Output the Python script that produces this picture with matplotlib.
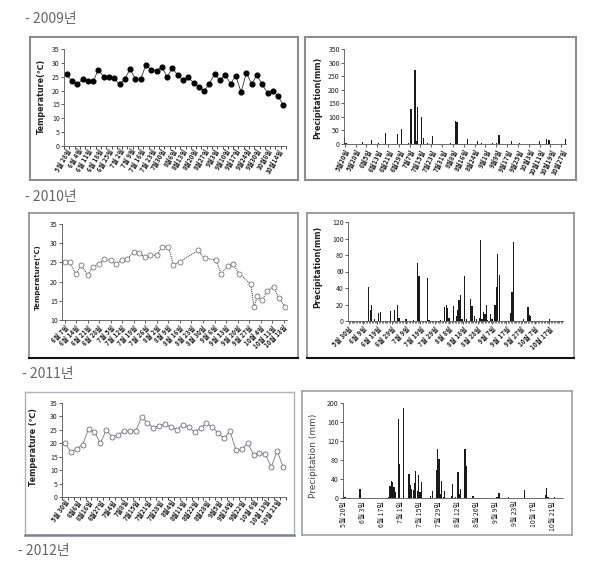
import numpy as np
import matplotlib.pyplot as plt
from matplotlib.lines import Line2D

plt.rcParams['font.family'] = ['Noto Sans CJK KR', 'DejaVu Sans']

W, H = 606, 570

# ---- 2009 ----
t09 = [26.0, 23.3, 22.2, 24.0, 23.6, 23.3, 27.5, 25.0, 25.0, 24.5, 22.2, 24.2, 27.7, 24.2,
       24.2, 29.2, 27.5, 27.0, 28.5, 25.0, 28.0, 25.7, 23.7, 24.8, 22.8, 21.3, 19.8, 22.5,
       26.0, 23.7, 25.7, 22.5, 25.3, 19.5, 26.3, 22.5, 25.5, 22.2, 19.2, 20.0, 17.9, 14.8]
t09_lab = ['5월 28일', '6월 4일', '6월 11일', '6월 18일', '6월 25일', '7월 2일', '7월 9일',
           '7월 16일', '7월 23일', '7월30일', '8월6일', '8월13일', '8월20일', '8월27일',
           '9월3일', '9월10일', '9월17일', '9월24일', '9월30일', '10월8일', '10월14일']

# days counted from 5/20
p09_day = [0, 1, 13, 20, 25, 30, 39, 42, 47, 49, 52, 53, 54, 57, 58, 61, 65, 78, 82, 83,
           91, 98, 101, 109, 112, 114, 123, 129, 144, 149, 151, 163]
p09_val = [25, 3, 8, 15, 3, 40, 38, 55, 3, 130, 272, 10, 135, 100, 23, 3, 28, 5, 83, 82,
           17, 10, 5, 3, 5, 35, 10, 3, 10, 18, 14, 20]
p09_lab = ['5월20일', '5월28일', '6월5일', '6월13일', '6월21일', '6월29일', '7월7일', '7월15일',
           '7월23일', '7월31일', '8월8일', '8월16일', '8월24일', '9월1일', '9월9일', '9월17일',
           '9월25일', '10월3일', '10월11일', '10월19일', '10월27일']

# ---- 2010 ----
# days counted from 6/7
t10_day = [0, 3, 7, 10, 14, 17, 21, 24, 28, 31, 35, 38, 42, 45, 49, 52, 56, 59, 63, 66,
           70, 81, 85, 92, 95, 99, 102, 106, 113, 115, 117, 120, 123, 127, 130, 134]
t10 = [25.2, 25.0, 21.9, 24.4, 21.6, 23.9, 24.5, 25.9, 25.5, 24.5, 25.7, 25.9, 27.7, 27.4,
       26.3, 27.0, 26.8, 29.1, 29.1, 24.4, 25.2, 28.1, 26.1, 25.6, 22.0, 24.1, 24.7, 22.1,
       19.3, 13.5, 16.2, 15.1, 17.6, 18.7, 15.6, 13.5]
t10_lab = ['6월 7일', '6월 14일', '6월 21일', '6월 28일', '7월 5일', '7월 12일', '7월 19일',
           '7월 26일', '8월 2일', '8월 9일', '8월 16일', '8월 23일', '8월 30일', '9월 6일',
           '9월 13일', '9월 20일', '9월 27일', '10월 4일', '10월 11일', '10월 18일']

# days counted from 5/30
p10_day = [14, 15, 16, 18, 21, 22, 29, 32, 34, 35, 40, 45, 48, 49, 55, 56, 64, 67, 68, 69,
           70, 73, 75, 76, 77, 78, 79, 81, 82, 85, 86, 88, 89, 91, 92, 93, 94, 95, 96, 97,
           99, 100, 102, 103, 104, 105, 113, 114, 115, 122, 125, 126, 127, 140]
p10_val = [40.7, 13, 19, 2, 10, 11, 12, 13, 19, 4, 2, 1, 70, 54, 52, 1, 1, 17.5, 19, 15.5,
           4, 18, 6, 13, 26, 32, 2, 54, 3, 27, 18, 6, 2, 4, 97.6, 2, 11, 9, 20, 1,
           8, 2, 19, 41.5, 81, 56, 10, 35, 95.6, 2, 17, 7, 6, 2.5]
p10_lab = ['5월 30일', '6월 9일', '6월 19일', '6월 29일', '7월 9일', '7월 19일', '7월 29일',
           '8월 8일', '8월 18일', '8월 28일', '9월 7일', '9월 17일', '9월 27일', '10월 7일',
           '10월 17일']

# ---- 2011 ----
t11 = [20.0, 16.9, 17.9, 19.5, 25.3, 24.3, 20.0, 24.9, 22.4, 23.0, 24.6, 24.6, 24.6, 29.7,
       27.6, 25.8, 26.6, 27.0, 26.1, 25.1, 26.9, 26.1, 24.1, 25.8, 27.4, 26.1, 23.7, 21.9,
       24.6, 17.4, 17.7, 20.1, 15.8, 16.3, 15.9, 11.2, 17.1, 11.3]
t11_lab = ['5월 30일', '6월6일', '6월16일', '6월27일', '7월4일', '7월8일', '7월15일', '7월21일',
           '7월28일', '8월4일', '8월11일', '8월22일', '8월28일', '9월5일', '9월14일', '9월22일',
           '10월 6일', '10월 13일', '10월 21일']

# days counted from 5/20
p11_day = [0, 1, 12, 20, 24, 33, 34, 35, 36, 37, 38, 40, 41, 44, 48, 49, 50, 51, 52, 53,
           54, 55, 56, 57, 64, 65, 68, 69, 70, 71, 72, 73, 74, 79, 80, 82, 84, 85, 86, 89,
           90, 95, 98, 112, 113, 114, 121, 133, 148, 149, 150, 155, 157]
p11_val = [15, 3, 20, 1, 1, 3, 25, 36, 33, 23, 13, 166, 72, 190, 50, 27, 18, 17, 32, 57,
           14, 49, 12, 34, 4, 15, 58, 104, 82, 8, 36, 3, 15, 5, 30, 2, 55, 9, 19, 103,
           67, 5, 1, 3, 3, 10, 3, 17, 7, 21, 2, 2, 1]
p11_lab = ['5월 20일', '6월 3일', '6월 17일', '7월 1일', '7월 15일', '7월 29일', '8월 12일',
           '8월 26일', '9월 9일', '9월 23일', '10월 7일', '10월 21일']

years = ['- 2009년', '- 2010년', '- 2011년', '- 2012년']

fig = plt.figure(figsize=(W / 100, H / 100), dpi=100)


def add_ax(x0, y0, x1, y1):
    ax = fig.add_axes([x0 / W, 1 - y1 / H, (x1 - x0) / W, (y1 - y0) / H])
    ax.patch.set_alpha(0)
    for s in ['top', 'right']:
        ax.spines[s].set_visible(False)
    for s in ['left', 'bottom']:
        ax.spines[s].set_color('#555555')
        ax.spines[s].set_linewidth(0.6)
    ax.tick_params(labelsize=5, length=2, width=0.5, pad=1, colors='#222222')
    return ax


def fline(x, y, c, lw):
    fig.add_artist(Line2D([v / W for v in x], [1 - v / H for v in y],
                          transform=fig.transFigure, color=c, lw=lw))


def box(x0, y0, x1, y1, c, lw, cb=None, lwb=None):
    fline([x0, x1], [y0, y0], c, lw)
    fline([x1, x1], [y0, y1], c, lw)
    fline([x0, x0], [y0, y1], c, lw)
    fline([x0, x1], [y1, y1], cb or c, lwb or lw)


def ylab(x, y, s, size=5.5, weight='bold', color='#222222'):
    fig.text(x / W, 1 - y / H, s, rotation=90, ha='center', va='center',
             fontsize=size, weight=weight, color=color,
             family=['DejaVu Sans', 'Noto Sans CJK KR'])


# year headings
for (x, y), s in zip([(25, 19), (25, 197), (22, 374), (18, 551)], years):
    fig.text(x / W, 1 - y / H, s, ha='left', va='center', fontsize=10,
             color='#666666', weight='light')

# frames
box(30, 37, 298, 180, '#8c8c8c', 1.5)
box(305, 37, 576, 180, '#8c8c8c', 1.5)
box(29, 213, 298, 358, '#8c8c8c', 1.2, '#111111', 1.5)
box(307, 213, 574, 358, '#8c8c8c', 1.2, '#111111', 1.5)
box(25, 392, 294, 535, '#a8b0c8', 1.0, '#7880a0', 1.8)
box(302, 391, 572, 535, '#a0a0a0', 1.2)

# ---- panel 1: 2009 temperature ----
ax = add_ax(64, 49, 286, 146)
x = np.arange(len(t09))
ax.plot(x, t09, color='#333333', lw=0.6, marker='o', ms=3.4, mfc='k', mec='k')
ax.set_xlim(-0.5, len(t09) - 0.5)
ax.set_ylim(0, 35)
ax.set_yticks(np.arange(0, 36, 5))
ax.set_xticks(x[::2], t09_lab, rotation=60, ha='right', va='top',
              rotation_mode='anchor', fontsize=4.7, weight='bold')
ax.tick_params(axis='x', length=0)
ax.set_xticks(np.arange(-0.5, len(t09), 1), minor=True)
ax.tick_params(axis='x', which='minor', length=2, width=0.5)
ylab(41, 96, 'Temperature(℃)', 5.8)

# ---- panel 2: 2009 precipitation ----
ax = add_ax(344, 49, 566, 144)
ax.bar(p09_day, p09_val, width=0.9, color='#1a1a1a', linewidth=0)
ax.set_xlim(-0.5, 163.5)
ax.set_ylim(0, 350)
ax.set_yticks(np.arange(0, 351, 50))
ax.set_xticks(np.arange(0, 164, 8), p09_lab, rotation=65, ha='right', va='top',
              rotation_mode='anchor', fontsize=4.7, weight='bold')
ylab(318, 98, 'Precipitation(mm)', 5.8)

# ---- panel 3: 2010 temperature ----
ax = add_ax(62, 224, 287, 320)
ax.plot(t10_day, t10, color='#333333', lw=0.7, ls=(0, (1, 1)), marker='o', ms=3.6,
        mfc='white', mec='#777777', mew=0.6)
ax.set_xlim(-1.6, 135)
ax.set_ylim(10, 35)
ax.set_yticks(np.arange(10, 36, 5))
ax.set_xticks(np.arange(0, 134, 7), t10_lab, rotation=45, ha='right', va='top',
              rotation_mode='anchor', fontsize=4.7, weight='bold')
ylab(38, 277, 'Temperature(℃)', 5.0)

# ---- panel 4: 2010 precipitation ----
ax = add_ax(348, 222, 563, 321)
ax.bar(p10_day, p10_val, width=0.9, color='#1a1a1a', linewidth=0)
ax.set_xlim(-0.5, 149.5)
ax.set_ylim(0, 120)
ax.set_yticks(np.arange(0, 121, 20))
ax.set_xticks(np.arange(0, 141, 10), p10_lab, rotation=45, ha='right', va='top',
              rotation_mode='anchor', fontsize=4.7, weight='bold')
ax.set_xticks(np.arange(0, 150, 1), minor=True)
ax.tick_params(axis='x', which='minor', length=1.5, width=0.4)
ylab(318, 267, 'Precipitation(mm)', 5.8)

# ---- panel 5: 2011 temperature ----
ax = add_ax(62, 403, 286, 497)
x = np.arange(len(t11))
ax.plot(x, t11, color='#777788', lw=0.6, marker='o', ms=3.6, mfc='white',
        mec='#6a6a80', mew=0.6)
ax.set_xlim(-0.5, len(t11) - 0.5)
ax.set_ylim(0, 35)
ax.set_yticks(np.arange(0, 36, 5))
ax.set_xticks(x[::2], t11_lab, rotation=55, ha='right', va='top',
              rotation_mode='anchor', fontsize=4.7, weight='bold')
ax.tick_params(axis='x', length=0)
ax.set_xticks(np.arange(-0.5, len(t11), 1), minor=True)
ax.tick_params(axis='x', which='minor', length=2, width=0.5)
ylab(34, 447, 'Temperature (℃)', 5.8)

# ---- panel 6: 2011 precipitation ----
ax = add_ax(343, 403, 563, 498)
ax.bar(p11_day, p11_val, width=0.9, color='#1a1a1a', linewidth=0)
ax.set_xlim(-0.5, 161)
ax.set_ylim(0, 200)
ax.set_yticks(np.arange(0, 201, 40))
ax.set_xticks(np.arange(0, 155, 14), p11_lab, rotation=90, ha='center', va='top',
              fontsize=5)
ax.tick_params(axis='x', length=0, pad=2)
ylab(313, 456, 'Precipitation (mm)', 6.5, weight='normal', color='#444444')

fig.savefig('out.png', dpi=100)
